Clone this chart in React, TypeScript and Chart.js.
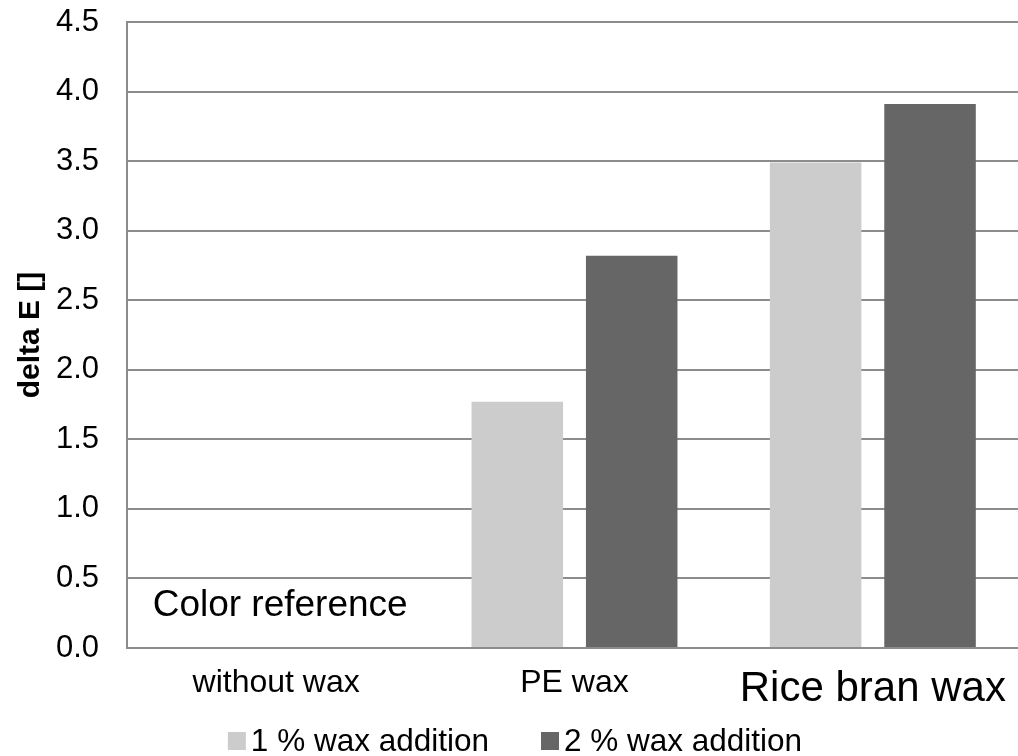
import React, { useEffect, useRef } from "react";
import { Chart, registerables } from "chart.js";

Chart.register(...registerables);

const categories = ["without wax", "PE wax", "Rice bran wax"];
const series1Label = "1 % wax addition";
const series2Label = "2 % wax addition";
const series1Values = [0, 1.77, 3.49];
const series2Values = [0, 2.82, 3.91];
const yTickMin = 0;
const yTickMax = 4.5;
const yTickStep = 0.5;
const yTitle = "delta E []";
const annotationText = "Color reference";
const annotationCategoryIndex = 0;
const annotationValue = 0.3;

const FONT = "'Liberation Sans', Arial, Helvetica, sans-serif";
const LIGHT = "#cccccc";
const DARK = "#666666";
const GRID = "#8c8c8c";

const overlayPlugin = {
  id: "overlayPlugin",
  afterDraw(chart: any) {
    const ctx = chart.ctx;
    const xs = chart.scales.x;
    const ys = chart.scales.y;
    const area = chart.chartArea;
    ctx.save();
    // annotation text
    ctx.fillStyle = "#000";
    ctx.font = `37px ${FONT}`;
    ctx.textAlign = "center";
    ctx.textBaseline = "middle";
    ctx.fillText(
      annotationText,
      xs.getPixelForValue(annotationCategoryIndex) + 4,
      ys.getPixelForValue(annotationValue)
    );
    // y axis title
    ctx.save();
    ctx.translate(31, (area.top + area.bottom) / 2);
    ctx.rotate(-Math.PI / 2);
    ctx.font = `bold 30px ${FONT}`;
    ctx.textAlign = "center";
    ctx.textBaseline = "middle";
    ctx.fillText(yTitle, 0, 0);
    ctx.restore();
    // legend
    ctx.font = `31.5px ${FONT}`;
    const box = 18;
    const gap = 5;
    const itemGap = 52;
    const items = chart.data.datasets.map((d: any) => ({
      label: d.label,
      color: d.backgroundColor,
      w: ctx.measureText(d.label).width,
    }));
    let total = 0;
    items.forEach((it: any, i: number) => {
      total += box + gap + it.w + (i > 0 ? itemGap : 0);
    });
    let x = chart.width / 2 - total / 2;
    const cy = 741;
    ctx.textAlign = "left";
    ctx.textBaseline = "middle";
    items.forEach((it: any, i: number) => {
      if (i > 0) x += itemGap;
      ctx.fillStyle = it.color;
      ctx.fillRect(x, cy - box / 2, box, box);
      x += box + gap;
      ctx.fillStyle = "#000";
      ctx.fillText(it.label, x, cy + 1);
      x += it.w;
    });
    ctx.restore();
  },
};

export default function App() {
  const canvasRef = useRef<HTMLCanvasElement>(null);

  useEffect(() => {
    if (!canvasRef.current) return;
    const chart = new Chart(canvasRef.current, {
      type: "bar",
      data: {
        labels: categories,
        datasets: [
          {
            label: series1Label,
            data: series1Values,
            backgroundColor: LIGHT,
            categoryPercentage: 0.767,
            barPercentage: 0.8,
          },
          {
            label: series2Label,
            data: series2Values,
            backgroundColor: DARK,
            categoryPercentage: 0.767,
            barPercentage: 0.8,
          },
        ],
      },
      options: {
        responsive: false,
        animation: false,
        layout: { padding: { left: 0, right: 8, top: 22, bottom: 48 } },
        plugins: {
          legend: { display: false },
          tooltip: { enabled: false },
        },
        scales: {
          x: {
            grid: { display: false, drawTicks: false },
            border: { display: true, color: GRID, width: 2 },
            ticks: {
              padding: 16,
              color: "#000",
              font: (c: any) => ({
                family: FONT,
                size: c.index === 2 ? 42 : 32,
              }),
            },
            afterFit: (s: any) => {
              s.height = 60;
              s.paddingLeft = 0;
              s.paddingRight = 0;
            },
          },
          y: {
            min: yTickMin,
            max: yTickMax,
            grid: { color: GRID, lineWidth: 2, drawTicks: false },
            border: { display: true, color: GRID, width: 2 },
            ticks: {
              stepSize: yTickStep,
              padding: 28,
              color: "#000",
              font: { family: FONT, size: 31 },
              callback: (v: any) => Number(v).toFixed(1),
            },
            afterFit: (s: any) => {
              s.width = 127;
              s.paddingTop = 0;
              s.paddingBottom = 0;
            },
          },
        },
      },
      plugins: [overlayPlugin],
    });
    return () => chart.destroy();
  }, []);

  return (
    <div
      style={{
        position: "absolute",
        left: 0,
        top: 0,
        width: 1018,
        height: 756,
        overflow: "hidden",
        background: "#fff",
      }}
    >
      <canvas ref={canvasRef} width={1030} height={756} />
    </div>
  );
}
